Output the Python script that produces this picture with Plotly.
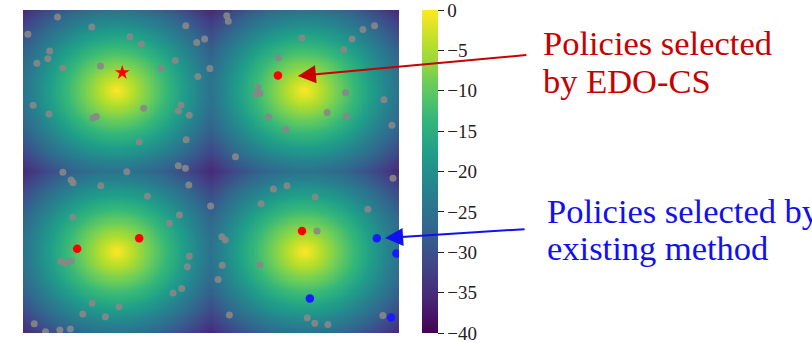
import numpy as np
import plotly.graph_objects as go

# ---- data (normalized coordinates, origin bottom-left) ----
peak_x = [0.25, 0.75]
peak_y = [0.25, 0.75]
cone_slope = 100.0      # drop of the objective per unit distance from nearest peak
z_min = -40.0
z_max = 0.0

grey_x = [0.092, 0.183, 0.013, 0.284, 0.315, 0.433, 0.071, 0.066, 0.037, 0.106,
          0.206, 0.405, 0.367, 0.462, 0.483, 0.497, 0.465, 0.027, 0.069, 0.186,
          0.195, 0.321, 0.420, 0.413, 0.442, 0.309, 0.434, 0.413, 0.432, 0.106,
          0.276,
          0.542, 0.546, 0.742, 0.904, 0.935, 0.875, 0.853, 0.679, 0.624, 0.630,
          0.619, 0.858, 0.960, 0.809, 0.860, 0.653, 0.699, 0.981, 0.565, 0.984,
          0.128, 0.133, 0.207, 0.441, 0.331, 0.132, 0.416, 0.389, 0.101, 0.114,
          0.128, 0.442, 0.437, 0.422, 0.399, 0.184, 0.255, 0.159, 0.219, 0.030,
          0.060, 0.098, 0.126,
          0.666, 0.702, 0.777, 0.633, 0.499, 0.917, 0.782, 0.529, 0.538, 0.530,
          0.630, 0.519, 0.549, 0.756, 0.776, 0.811, 0.957]
grey_y = [0.978, 0.947, 0.925, 0.917, 0.894, 0.951, 0.873, 0.849, 0.835, 0.820,
          0.827, 0.844, 0.820, 0.899, 0.910, 0.819, 0.794, 0.705, 0.678, 0.666,
          0.670, 0.696, 0.706, 0.687, 0.674, 0.592, 0.598, 0.518, 0.510, 0.498,
          0.499,
          0.982, 0.965, 0.913, 0.940, 0.951, 0.910, 0.877, 0.852, 0.761, 0.742,
          0.739, 0.744, 0.722, 0.683, 0.671, 0.669, 0.631, 0.643, 0.546, 0.479,
          0.474, 0.465, 0.456, 0.458, 0.423, 0.359, 0.365, 0.340, 0.222, 0.216,
          0.222, 0.238, 0.205, 0.138, 0.124, 0.092, 0.081, 0.059, 0.050, 0.029,
          0.004, 0.009, 0.012,
          0.446, 0.456, 0.421, 0.400, 0.393, 0.383, 0.316, 0.298, 0.288, 0.210,
          0.211, 0.166, 0.056, 0.047, 0.030, 0.026, 0.054]

edo_x = [0.678, 0.144, 0.309, 0.742]
edo_y = [0.797, 0.261, 0.293, 0.316]
star_x = [0.264]
star_y = [0.806]
exist_x = [0.941, 0.993, 0.763, 0.979]
exist_y = [0.293, 0.246, 0.107, 0.048]

cbar_ticks = [0, -5, -10, -15, -20, -25, -30, -35, -40]

red_text = ["Policies selected", "by EDO-CS"]
blue_text = ["Policies selected by", "existing method"]
red_arrow_tip = (0.731, 0.796)
blue_arrow_tip = (0.963, 0.294)

# ---- landscape ----
n = 301
gx = np.linspace(0, 1, n)
gy = np.linspace(0, 1, n)
X, Y = np.meshgrid(gx, gy)
D = np.full(X.shape, np.inf)
for px in peak_x:
    for py in peak_y:
        D = np.minimum(D, np.sqrt((X - px) ** 2 + (Y - py) ** 2))
Z = -cone_slope * D

W, H = 812, 343
ml, mt = 23, 10
pw, ph = 376, 323
mr = W - ml - pw
mb = H - mt - ph

fig = go.Figure()
fig.add_trace(go.Heatmap(
    x=gx, y=gy, z=Z, colorscale="Viridis", zmin=z_min, zmax=z_max,
    hoverinfo="skip",
    colorbar=dict(
        x=(422 - ml) / pw, xanchor="left", xpad=0,
        y=0.5, yanchor="middle", ypad=0,
        len=ph, lenmode="pixels", thickness=16, thicknessmode="pixels",
        outlinewidth=0,
        tickvals=cbar_ticks, ticks="outside", ticklen=6, tickwidth=1,
        tickcolor="#222", ticklabeloverflow="allow",
        tickfont=dict(family="Liberation Serif", size=19, color="#222"),
    ),
))
fig.add_trace(go.Scatter(x=grey_x, y=grey_y, mode="markers",
                         marker=dict(size=7, color="rgba(135,135,135,0.9)"),
                         hoverinfo="skip", showlegend=False))
fig.add_trace(go.Scatter(x=edo_x, y=edo_y, mode="markers",
                         marker=dict(size=8.5, color="#ff0000"),
                         showlegend=False))
fig.add_trace(go.Scatter(x=star_x, y=star_y, mode="markers",
                         marker=dict(size=11, color="#ff0000", symbol="star"),
                         showlegend=False))
fig.add_trace(go.Scatter(x=exist_x, y=exist_y, mode="markers",
                         marker=dict(size=8.5, color="#1a1aff"),
                         showlegend=False))

red = "#c80000"
blue = "#1010f0"
font_family = "Liberation Serif"
fs = 34.5

def win_to_paper(wx, wy):
    return (wx - ml) / pw, (H - mb - wy) / ph

# arrows
fig.add_annotation(x=red_arrow_tip[0], y=red_arrow_tip[1], xref="x", yref="y",
                   text="", showarrow=True, ax=230, ay=-21,
                   arrowhead=2, arrowsize=1.8, arrowwidth=2, arrowcolor=red,
                   standoff=0)
fig.add_annotation(x=blue_arrow_tip[0], y=blue_arrow_tip[1], xref="x", yref="y",
                   text="", showarrow=True, ax=141, ay=-9,
                   arrowhead=2, arrowsize=1.8, arrowwidth=2, arrowcolor=blue,
                   standoff=0)

# texts
for txt, (wx, wy) in zip(red_text, [(541, 43), (541, 81)]):
    xp, yp = win_to_paper(wx, wy)
    fig.add_annotation(x=xp, y=yp, xref="paper", yref="paper", text=txt,
                       showarrow=False, xanchor="left", yanchor="middle",
                       font=dict(family=font_family, size=fs, color=red))
for txt, (wx, wy) in zip(blue_text, [(545, 211), (545, 248)]):
    xp, yp = win_to_paper(wx, wy)
    fig.add_annotation(x=xp, y=yp, xref="paper", yref="paper", text=txt,
                       showarrow=False, xanchor="left", yanchor="middle",
                       font=dict(family=font_family, size=fs, color=blue))

fig.update_xaxes(range=[0, 1], visible=False, showgrid=False, zeroline=False)
fig.update_yaxes(range=[0, 1], visible=False, showgrid=False, zeroline=False)
fig.update_layout(
    width=W, height=H,
    margin=dict(l=ml, r=mr, t=mt, b=mb, pad=0),
    paper_bgcolor="white", plot_bgcolor="white",
    showlegend=False,
)
fig.write_html(
    "out.html",
    config={"displayModeBar": False},
    post_script="document.body.style.margin='0';document.body.style.overflow='hidden';",
)
